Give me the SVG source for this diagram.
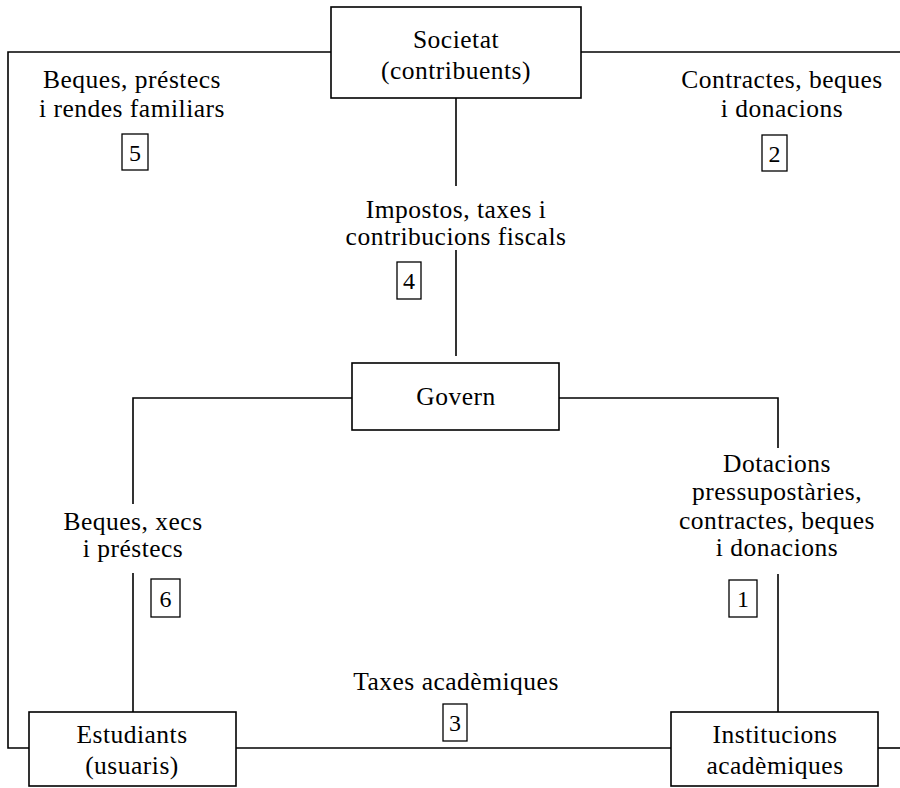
<svg xmlns="http://www.w3.org/2000/svg" width="900" height="788" viewBox="0 0 900 788">
<style>
  .box { fill: #fff; stroke: #000; stroke-width: 1.6; }
  .nb { fill: #fff; stroke: #000; stroke-width: 1.3; }
  .ln { fill: none; stroke: #000; stroke-width: 1.6; }
  text { font-family: "Liberation Serif", "Times New Roman", serif; font-size: 25.5px; letter-spacing: 0.5px; fill: #000; text-anchor: middle; }
  .num { font-size: 24px; letter-spacing: 0; }
</style>
<rect width="900" height="788" fill="#fff"/>
<g id="connectors">
  <polyline class="ln" points="331,52 8,52 8,748 29,748"/>
  <line class="ln" x1="581" y1="52" x2="900" y2="52"/>
  <line class="ln" x1="456" y1="98" x2="456" y2="186"/>
  <line class="ln" x1="456" y1="250" x2="456" y2="356"/>
  <polyline class="ln" points="352,398 133,398 133,504"/>
  <line class="ln" x1="133" y1="573" x2="133" y2="712"/>
  <polyline class="ln" points="559,398 778,398 778,448"/>
  <line class="ln" x1="778" y1="574" x2="778" y2="712"/>
  <line class="ln" x1="236" y1="748" x2="671" y2="748"/>
  <line class="ln" x1="878" y1="748" x2="900" y2="748"/>
</g>
<g id="societat">
  <rect class="box" x="331" y="7" width="250" height="91"/>
  <text x="456" y="48">Societat</text>
  <text x="456" y="79">(contribuents)</text>
</g>
<g id="govern">
  <rect class="box" x="352" y="363" width="207" height="67"/>
  <text x="456" y="405">Govern</text>
</g>
<g id="estudiants">
  <rect class="box" x="29" y="712" width="207" height="74"/>
  <text x="132" y="743">Estudiants</text>
  <text x="132" y="774">(usuaris)</text>
</g>
<g id="institucions">
  <rect class="box" x="671" y="712" width="207" height="74"/>
  <text x="775" y="743">Institucions</text>
  <text x="775" y="774">acadèmiques</text>
</g>
<g id="label5">
  <text x="132" y="88">Beques, préstecs</text>
  <text x="132" y="117">i rendes familiars</text>
  <rect class="nb" x="122" y="134" width="26" height="36"/>
  <text class="num" x="135" y="161">5</text>
</g>
<g id="label2">
  <text x="782" y="88">Contractes, beques</text>
  <text x="782" y="117">i donacions</text>
  <rect class="nb" x="762" y="135" width="25" height="36"/>
  <text class="num" x="774.5" y="162">2</text>
</g>
<g id="label4">
  <text x="456" y="218">Impostos, taxes i</text>
  <text x="456" y="245">contribucions fiscals</text>
  <rect class="nb" x="397" y="262" width="24" height="37"/>
  <text class="num" x="409" y="289">4</text>
</g>
<g id="label6">
  <text x="133" y="530">Beques, xecs</text>
  <text x="133" y="557">i préstecs</text>
  <rect class="nb" x="151" y="579" width="29" height="38"/>
  <text class="num" x="165.5" y="607">6</text>
</g>
<g id="label1">
  <text x="777" y="472">Dotacions</text>
  <text x="777" y="500">pressupostàries,</text>
  <text x="777" y="529">contractes, beques</text>
  <text x="777" y="556">i donacions</text>
  <rect class="nb" x="729" y="580" width="28" height="37"/>
  <text class="num" x="743" y="607">1</text>
</g>
<g id="label3">
  <text x="456" y="690">Taxes acadèmiques</text>
  <rect class="nb" x="443" y="704" width="24" height="37"/>
  <text class="num" x="455" y="731">3</text>
</g>
</svg>
